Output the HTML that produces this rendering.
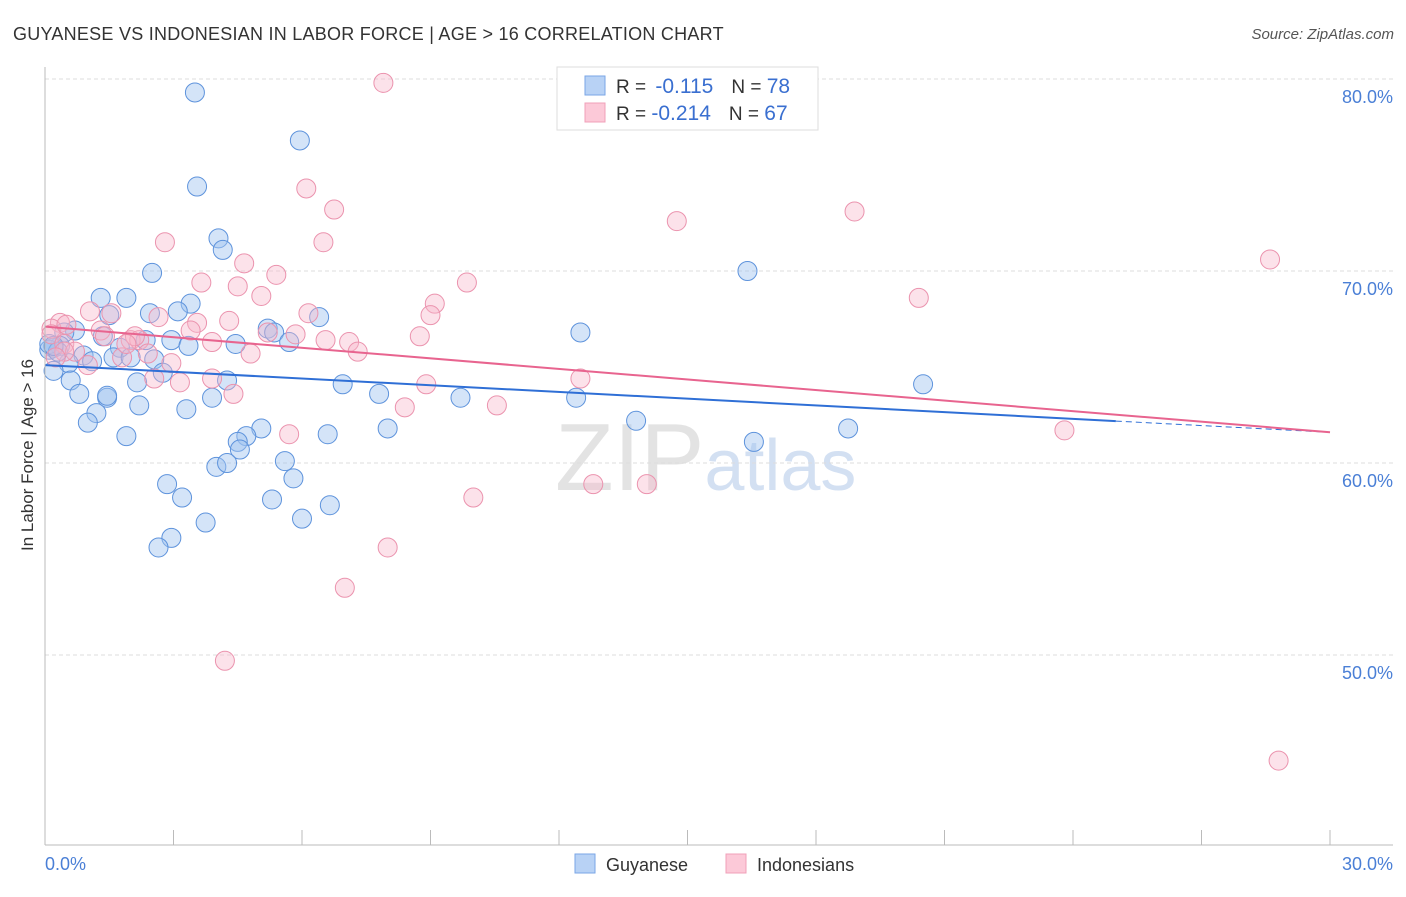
<!DOCTYPE html>
<html><head><meta charset="utf-8"><style>
body{margin:0;background:#fff;font-family:"Liberation Sans",sans-serif}
svg text{font-family:"Liberation Sans",sans-serif}
</style></head><body>
<svg id="chart" width="1406" height="892" xmlns="http://www.w3.org/2000/svg">
<text x="13" y="40" font-size="18" fill="#333" letter-spacing="0.25">GUYANESE VS INDONESIAN IN LABOR FORCE | AGE &gt; 16 CORRELATION CHART</text>
<text x="1394" y="39" font-size="15" fill="#555" text-anchor="end" font-style="italic">Source: ZipAtlas.com</text>
<text x="555" y="490" font-size="96" fill="#ddd" font-family="Liberation Serif" opacity="0.8">ZIP<tspan fill="#c9d9f0" font-family="Liberation Sans" font-size="72">atlas</tspan></text>
<text transform="translate(33,455) rotate(-90)" font-size="17" fill="#333" text-anchor="middle">In Labor Force | Age &gt; 16</text>
<g id="grid"></g><g id="pts"></g><g id="lines"></g>
<line x1="45" y1="845" x2="1393" y2="845" stroke="#bbb"/>
<line x1="45" y1="67" x2="45" y2="845" stroke="#bbb"/>
<text x="45" y="870" font-size="18" fill="#4a7fd6">0.0%</text>
<text x="1393" y="870" font-size="18" fill="#4a7fd6" text-anchor="end">30.0%</text>
<g>
<rect x="557" y="67" width="261" height="63" fill="#fff" stroke="#ddd"/>
<rect x="585" y="76" width="20" height="19" fill="#b8d2f5" stroke="#7aa6e6"/>
<rect x="585" y="103" width="20" height="19" fill="#fcc9d8" stroke="#f0a0b9"/>
<text x="616" y="93" font-size="19" fill="#333">R = <tspan fill="#3a6fd0" font-size="21" dx="4">-0.115</tspan><tspan dx="18">N = </tspan><tspan fill="#3a6fd0" font-size="21">78</tspan></text>
<text x="616" y="120" font-size="19" fill="#333">R = <tspan fill="#3a6fd0" font-size="21">-0.214</tspan><tspan dx="18">N = </tspan><tspan fill="#3a6fd0" font-size="21">67</tspan></text>
</g>
<g>
<rect x="575" y="854" width="20" height="19" fill="#b8d2f5" stroke="#7aa6e6"/>
<text x="606" y="871" font-size="18" fill="#333">Guyanese</text>
<rect x="726" y="854" width="20" height="19" fill="#fcc9d8" stroke="#f0a0b9"/>
<text x="757" y="871" font-size="18" fill="#333">Indonesians</text>
</g>
</svg>
<script>
const yTicks=[50,60,70,80];
const blueX=[3.5,5.95,3.55,4.05,4.15,2.5,16.4,1.3,1.9,3.4,2.45,3.1,6.4,1.5,0.7,0.45,5.2,5.35,12.5,1.35,2.35,2.95,0.35,3.35,4.45,5.7,1.75,0.2,0.1,0.9,1.6,2.0,1.1,2.55,0.55,0.2,2.75,2.15,0.6,4.25,6.95,7.8,0.8,1.45,1.45,9.7,12.4,3.9,20.5,2.2,1.2,3.3,1.0,13.8,1.9,6.6,8.0,18.75,16.55,5.05,4.7,4.5,4.55,4.0,4.25,5.6,5.8,2.85,3.2,5.3,6.65,6.0,3.75,2.95,2.65,0.1,0.3,0.2];
const blueY=[79.3,76.8,74.4,71.7,71.1,69.9,70.0,68.6,68.6,68.3,67.8,67.9,67.6,67.7,66.9,66.8,67.0,66.8,66.8,66.6,66.4,66.4,66.1,66.1,66.2,66.3,66.0,66.0,65.9,65.6,65.5,65.5,65.3,65.4,65.2,64.8,64.7,64.2,64.3,64.3,64.1,63.6,63.6,63.4,63.5,63.4,63.4,63.4,64.1,63.0,62.6,62.8,62.1,62.2,61.4,61.5,61.8,61.8,61.1,61.8,61.4,61.1,60.7,59.8,60.0,60.1,59.2,58.9,58.2,58.1,57.8,57.1,56.9,56.1,55.6,66.2,65.8,66.1];
const pinkX=[7.9,6.1,6.75,14.75,18.9,2.8,6.5,4.65,28.6,5.4,3.65,4.5,9.85,5.05,20.4,9.1,1.05,9.0,1.55,6.15,2.65,3.55,4.3,0.35,0.15,1.3,3.4,5.2,5.85,8.75,0.15,0.45,2.0,2.2,3.9,6.55,7.1,0.7,2.4,7.3,4.8,1.8,1.0,2.95,12.5,2.55,3.15,3.9,8.9,4.4,8.4,10.55,5.7,23.8,10.0,12.8,14.05,8.0,7.0,4.2,28.8,0.45,0.25,2.1,1.4,0.5,1.9];
const pinkY=[79.8,74.3,73.2,72.6,73.1,71.5,71.5,70.4,70.6,69.8,69.4,69.2,69.4,68.7,68.6,68.3,67.9,67.7,67.8,67.8,67.6,67.3,67.4,67.3,67.0,66.9,66.9,66.8,66.7,66.6,66.7,66.2,66.4,66.4,66.3,66.4,66.3,65.8,65.7,65.8,65.7,65.5,65.1,65.2,64.4,64.4,64.2,64.4,64.1,63.6,62.9,63.0,61.5,61.7,58.2,58.9,58.9,55.6,53.5,49.7,44.5,65.8,65.5,66.6,66.6,67.2,66.2];
const blueTrend=[65.1,61.6], pinkTrend=[67.1,61.6];
const X=v=>45+v/30*1285, Y=v=>79+(80-v)*19.2;
const NS='http://www.w3.org/2000/svg';
function mk(t,a,p){const e=document.createElementNS(NS,t);for(const k in a)e.setAttribute(k,a[k]);p.appendChild(e);return e;}
const grid=document.getElementById('grid');
yTicks.forEach(t=>{
 const l=mk('line',{x1:45,x2:1393,y1:Y(t),y2:Y(t),stroke:'#ddd','stroke-dasharray':'4,3'},grid);
 
 
 const tx=mk('text',{x:1393,y:Y(t)+24,'font-size':18,fill:'#4a7fd6','text-anchor':'end'},grid);
 tx.textContent=t.toFixed(1)+'%';
 
 
});
for(let i=1;i<=10;i++){
 const l=mk('line',{x1:X(i*3),x2:X(i*3),y1:830,y2:845,stroke:'#bbb'},grid);
 
 
}
const pts=document.getElementById('pts');
blueX.forEach((x,i)=>{
 const c=mk('circle',{cx:X(x),cy:Y(blueY[i]),r:9.5,fill:'rgba(160,196,240,0.45)',stroke:'#5e93dc','stroke-width':1},pts);
 
 
});
pinkX.forEach((x,i)=>{
 const c=mk('circle',{cx:X(x),cy:Y(pinkY[i]),r:9.5,fill:'rgba(248,182,202,0.4)',stroke:'#eb93ae','stroke-width':1},pts);
 
 
});
const lines=document.getElementById('lines');
const bAt=x=>blueTrend[0]+(blueTrend[1]-blueTrend[0])*x/30;
let l1=mk('line',{x1:X(0),y1:Y(bAt(0)),x2:X(25),y2:Y(bAt(25)),stroke:'#2f6fd6','stroke-width':2},lines);


let l2=mk('line',{x1:X(25),y1:Y(bAt(25)),x2:X(30),y2:Y(bAt(30)),stroke:'#2f6fd6','stroke-width':1,'stroke-dasharray':'6,4'},lines);


let l3=mk('line',{x1:X(0),y1:Y(pinkTrend[0]),x2:X(30),y2:Y(pinkTrend[1]),stroke:'#e8648f','stroke-width':2},lines);


</script>
</body></html>
